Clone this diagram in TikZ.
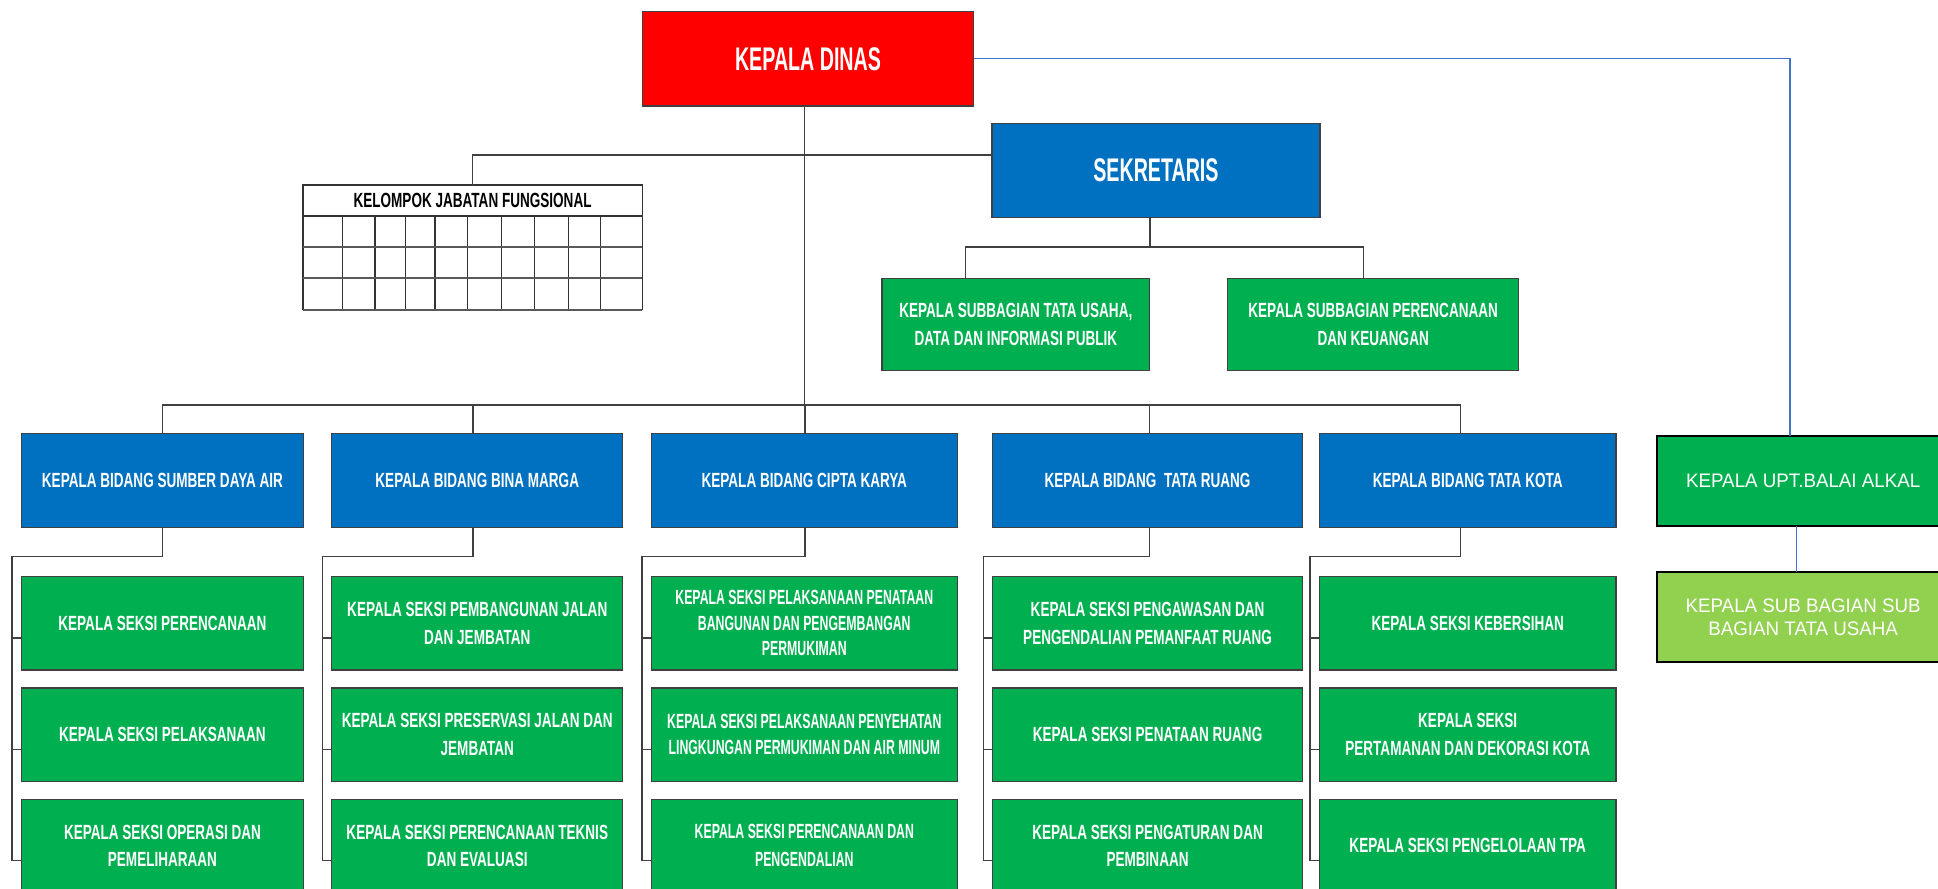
\documentclass[tikz,border=0pt]{standalone}
\usepackage{fontspec}
\newfontfamily\condfnt[FakeStretch=0.66]{Liberation Sans}
\newfontfamily\narrowfnt[FakeStretch=0.6]{Liberation Sans}
\newfontfamily\uptfnt[FakeStretch=0.96]{Liberation Sans}
\definecolor{kdred}{HTML}{FF0000}
\definecolor{bdblue}{HTML}{0070C0}
\definecolor{skgreen}{HTML}{00B050}
\definecolor{lgreen}{HTML}{92D050}
\definecolor{lnblue}{HTML}{4472C4}
\definecolor{lngray}{HTML}{404040}

\begin{document}
\begin{tikzpicture}[x=1pt, y=-1pt,
  org node/.style={rectangle, draw=black!75, line width=1pt, text=white, align=center, inner sep=1pt, outer sep=0pt, font=\condfnt\bfseries\fontsize{16.6}{22.4}\selectfont},
  head node/.style={org node, fill=kdred, font=\narrowfnt\bfseries\fontsize{26.5}{30}\selectfont},
  bidang node/.style={org node, fill=bdblue, minimum height=76.3pt},
  seksi node/.style={org node, fill=skgreen, minimum height=75.4pt},
  cipta node/.style={seksi node, font=\narrowfnt\bfseries\fontsize{16.6}{20.7}\selectfont},
  upt node/.style={org node, draw=black, line width=1.6pt, font=\uptfnt\fontsize{15.8}{18}\selectfont, minimum width=236.2pt, minimum height=73pt},
  org line/.style={lngray, line width=1.3pt},
  upt line/.style={lnblue, line width=1pt}]
\useasboundingbox (0,0) rectangle (1568,719);
\clip (0,0) rectangle (1568,719);

  % pimpinan
  \node[head node, minimum width=268.3pt, minimum height=76.4pt] (kd) at (653.75,47.6) {KEPALA DINAS};
  \node[head node, fill=bdblue, minimum width=265.3pt, minimum height=76pt] (sek) at (935.25,137.8) {SEKRETARIS};

  % kelompok jabatan fungsional
  \node[org node, fill=white, text=black, draw=black!80, minimum width=274.5pt, minimum height=25.1pt] (jf) at (382.35,162.25) {KELOMPOK JABATAN FUNGSIONAL};
  \foreach \x in {277,303.4,328.1,351.9,378.2,406,432.4,459.7,486.1}
    \draw[black!80, line width=1pt] (\x,174.8) -- (\x,250.8);
  \draw[black!80, line width=1pt] (245.1,174.8) -- (245.1,250.8) (519.6,174.8) -- (519.6,250.8);
  \foreach \y in {199.6,225.2,250.8}
    \draw[black!65, line width=1.8pt] (245.1,\y) -- (519.6,\y);

  % subbagian
  \node[seksi node, minimum width=216.6pt, minimum height=74.7pt] (sub1) at (821.9,262.55) {KEPALA SUBBAGIAN TATA USAHA,\\DATA DAN INFORMASI PUBLIK};
  \node[seksi node, minimum width=235.2pt, minimum height=74.7pt] (sub2) at (1111,262.55) {KEPALA SUBBAGIAN PERENCANAAN\\DAN KEUANGAN};

  % bidang
  \node[bidang node, minimum width=228.3pt] (b1) at (131.45,388.75) {KEPALA BIDANG SUMBER DAYA AIR};
  \node[bidang node, minimum width=235.5pt] (b2) at (386.15,388.75) {KEPALA BIDANG BINA MARGA};
  \node[bidang node, minimum width=247.7pt] (b3) at (650.75,388.75) {KEPALA BIDANG CIPTA KARYA};
  \node[bidang node, minimum width=250.6pt] (b4) at (928.5,388.75) {KEPALA BIDANG\ \ TATA RUANG};
  \node[bidang node, minimum width=239.8pt] (b5) at (1187.5,388.75) {KEPALA BIDANG TATA KOTA};

  % seksi sumber daya air
  \node[seksi node, minimum width=228.3pt] (s11) at (131.45,504.3) {KEPALA SEKSI PERENCANAAN};
  \node[seksi node, minimum width=228.3pt] (s12) at (131.45,594.4) {KEPALA SEKSI PELAKSANAAN};
  \node[seksi node, minimum width=228.3pt] (s13) at (131.45,684.3) {KEPALA SEKSI OPERASI DAN\\PEMELIHARAAN};

  % seksi bina marga
  \node[seksi node, minimum width=235.5pt] (s21) at (386.15,504.3) {KEPALA SEKSI PEMBANGUNAN JALAN\\DAN JEMBATAN};
  \node[seksi node, minimum width=235.5pt] (s22) at (386.15,594.4) {KEPALA SEKSI PRESERVASI JALAN DAN\\JEMBATAN};
  \node[seksi node, minimum width=235.5pt] (s23) at (386.15,684.3) {KEPALA SEKSI PERENCANAAN TEKNIS\\DAN EVALUASI};

  % seksi cipta karya
  \node[cipta node, minimum width=247.7pt] (s31) at (650.75,504.3) {KEPALA SEKSI PELAKSANAAN PENATAAN\\BANGUNAN DAN PENGEMBANGAN\\PERMUKIMAN};
  \node[cipta node, minimum width=247.7pt] (s32) at (650.75,594.4) {KEPALA SEKSI PELAKSANAAN PENYEHATAN\\LINGKUNGAN PERMUKIMAN DAN AIR MINUM};
  \node[cipta node, minimum width=247.7pt] (s33) at (650.75,684.3) {KEPALA SEKSI PERENCANAAN DAN\\[2pt]PENGENDALIAN};

  % seksi tata ruang
  \node[seksi node, minimum width=250.6pt] (s41) at (928.5,504.3) {KEPALA SEKSI PENGAWASAN DAN\\PENGENDALIAN PEMANFAAT RUANG};
  \node[seksi node, minimum width=250.6pt] (s42) at (928.5,594.4) {KEPALA SEKSI PENATAAN RUANG};
  \node[seksi node, minimum width=250.6pt] (s43) at (928.5,684.3) {KEPALA SEKSI PENGATURAN DAN\\PEMBINAAN};

  % seksi tata kota
  \node[seksi node, minimum width=239.8pt] (s51) at (1187.5,504.3) {KEPALA SEKSI KEBERSIHAN};
  \node[seksi node, minimum width=239.8pt] (s52) at (1187.5,594.4) {KEPALA SEKSI\\PERTAMANAN DAN DEKORASI KOTA};
  \node[seksi node, minimum width=239.8pt] (s53) at (1187.5,684.3) {KEPALA SEKSI PENGELOLAAN TPA};

  % upt
  \node[upt node, fill=skgreen] (upt) at (1458.9,389) {KEPALA UPT.BALAI ALKAL};
  \node[upt node, fill=lgreen] (usub) at (1458.9,499.4) {KEPALA SUB BAGIAN SUB\\BAGIAN TATA USAHA};

  % garis komando
  \coordinate (sbus) at (0,199.6);
  \coordinate (bbus) at (0,327.7);
  \coordinate (skbus) at (0,450.4);
  \draw[org line] (kd.south -| b3.north) -- (b3.north);
  \draw[org line] ([yshift=12.4pt]sek.west) -| (jf.north);
  \draw[org line] ([xshift=-5pt]sek.south) -- ([xshift=-5pt]sek.south |- sbus);
  \draw[org line] ([xshift=-40.7pt]sub1.north) |- ([xshift=-7.8pt]sub2.north |- sbus) -- ([xshift=-7.8pt]sub2.north);
  \draw[org line] (b1.north |- bbus) -- ([xshift=-5.7pt]b5.north |- bbus);
  \foreach \c/\dx in {1/0,2/-3.25,3/0.75,4/1.4,5/-5.7}{
    \draw[org line] ([xshift=\dx pt]b\c.north |- bbus) -- ([xshift=\dx pt]b\c.north);
    \draw[org line] ([xshift=\dx pt]b\c.south) -- ([xshift=\dx pt]b\c.south |- skbus) -- ([xshift=-7.5pt]s\c1.west |- skbus) -- ([xshift=-7.5pt,yshift=-12pt]s\c3.west);
    \foreach \r in {1,2,3}
      \draw[org line] ([xshift=-7.5pt,yshift=-12pt]s\c\r.west) -- ([yshift=-12pt]s\c\r.west);
  }
  \draw[upt line] (kd.east) -| ([xshift=-10.7pt]upt.north);
  \draw[upt line] ([xshift=-5.6pt]upt.south) -- ([xshift=-5.6pt]usub.north);
\end{tikzpicture}
\end{document}
